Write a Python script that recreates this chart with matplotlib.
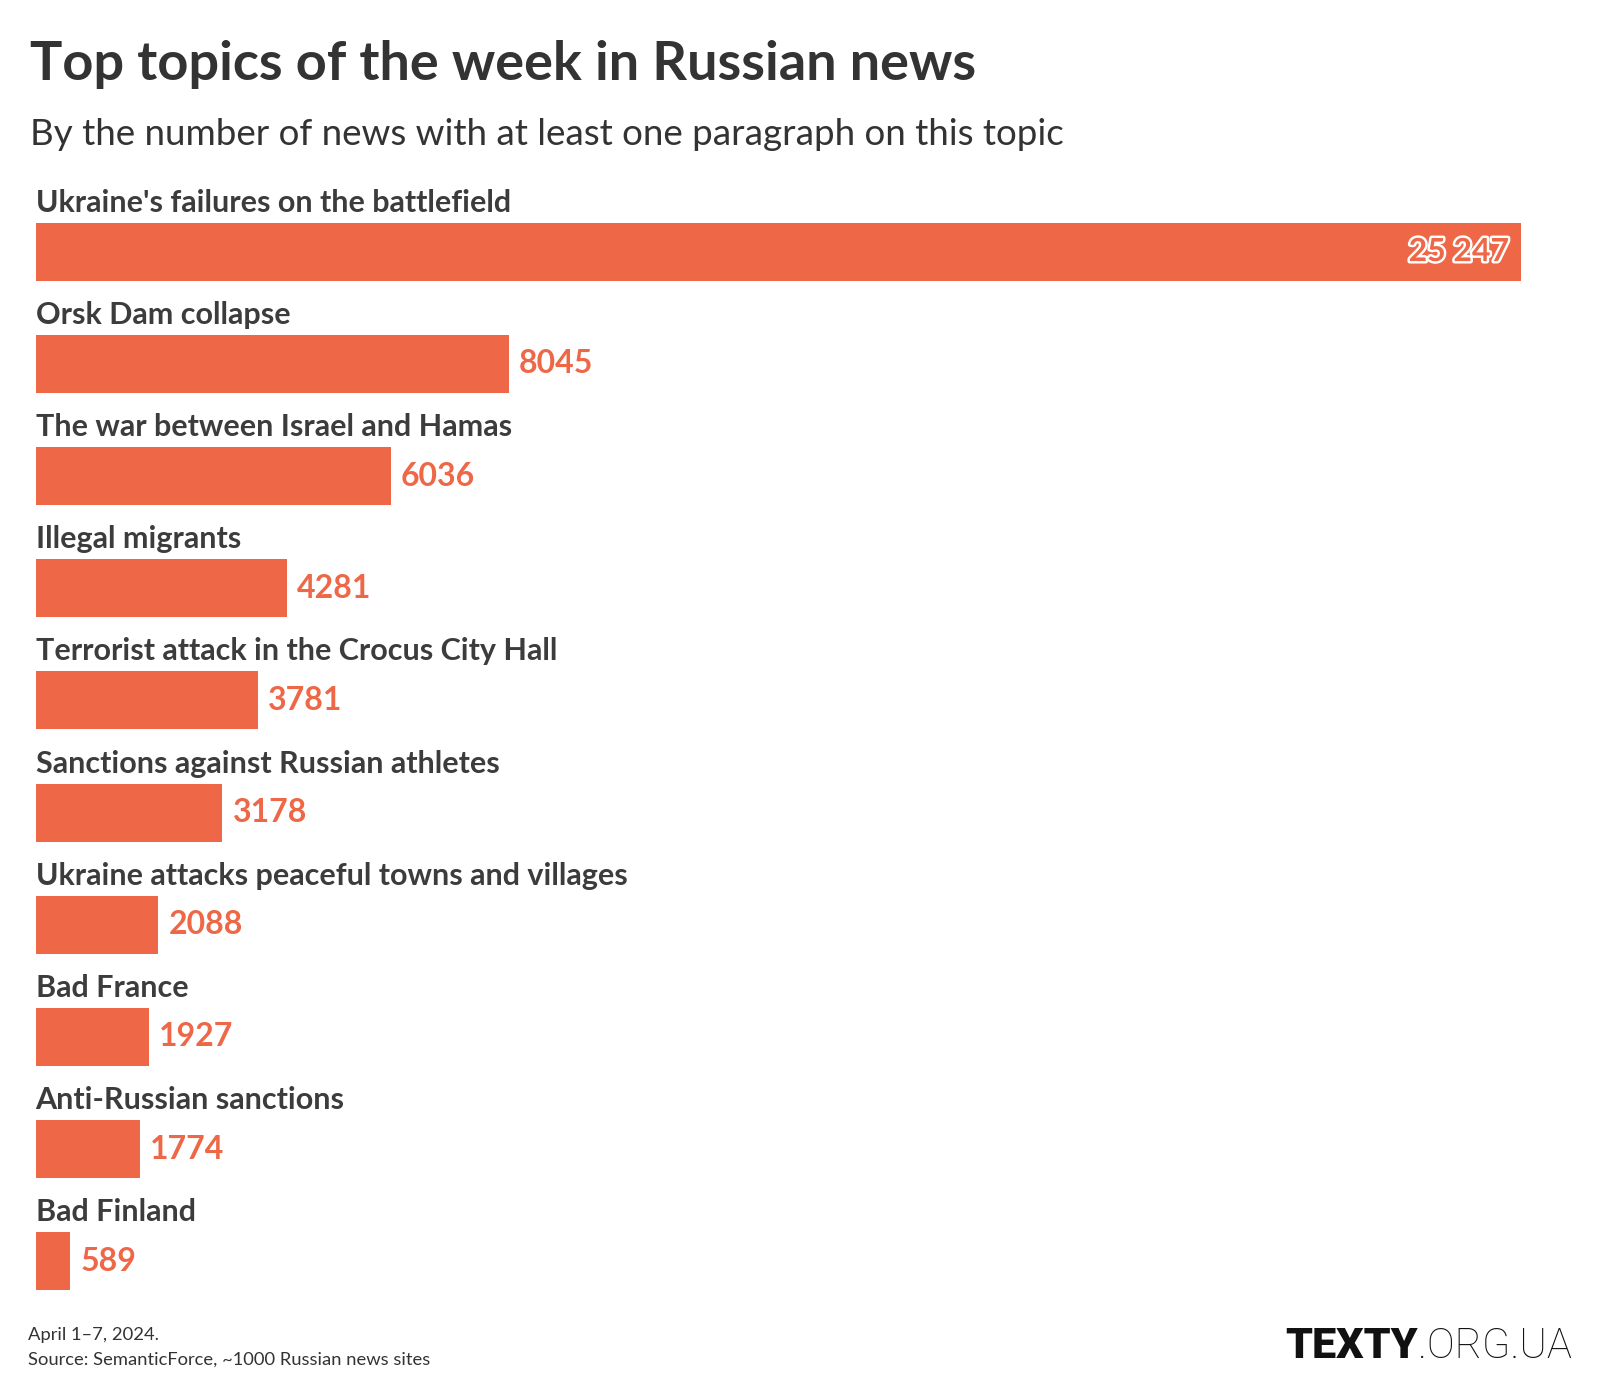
import matplotlib
matplotlib.use("Agg")
import matplotlib.pyplot as plt
import matplotlib.patheffects as pe

topics = [
    "Ukraine's failures on the battlefield",
    "Orsk Dam collapse",
    "The war between Israel and Hamas",
    "Illegal migrants",
    "Terrorist attack in the Crocus City Hall",
    "Sanctions against Russian athletes",
    "Ukraine attacks peaceful towns and villages",
    "Bad France",
    "Anti-Russian sanctions",
    "Bad Finland",
]
counts = [25247, 8045, 6036, 4281, 3781, 3178, 2088, 1927, 1774, 589]
value_labels = ["25 247", "8045", "6036", "4281", "3781", "3178", "2088", "1927", "1774", "589"]

title = "Top topics of the week in Russian news"
subtitle = "By the number of news with at least one paragraph on this topic"
footer1 = "April 1–7, 2024."
footer2 = "Source: SemanticForce, ~1000 Russian news sites"

W, H = 1600, 1400
BAR = "#EE6747"
LABEL = "#3c3c3c"
FONT = "Lato"

fig = plt.figure(figsize=(16, 14), dpi=100)
fig.patch.set_facecolor("white")

def px(x, y):
    return x / W, 1 - y / H

# axes geometry in pixels
x0, x1 = 35.5, 1520.5
c0, step = 251.6, 112.2
ytop, ybot = -0.9, 9.5
top_px = c0 + ytop * step
bot_px = c0 + ybot * step
ax = fig.add_axes([x0 / W, 1 - bot_px / H, (x1 - x0) / W, (bot_px - top_px) / H])
ax.set_xlim(0, max(counts))
ax.set_ylim(ybot, ytop)
ax.axis("off")

ypos = list(range(len(topics)))
ax.barh(ypos, counts, height=58 / step, color=BAR, align="center")

for i, (t, v, lab) in enumerate(zip(topics, counts, value_labels)):
    ax.text(0, i - 40 / step, t, family=FONT, weight="bold", fontsize=22,
            color=LABEL, ha="left", va="baseline")
    if i == 0:
        ax.annotate(lab, xy=(v, i), xytext=(-11, 0), textcoords="offset pixels",
                    family=FONT, weight="bold", fontsize=23, color=BAR,
                    ha="right", va="center",
                    path_effects=[pe.withStroke(linewidth=3.5, foreground="white")])
    else:
        ax.annotate(lab, xy=(v, i), xytext=(10, 0), textcoords="offset pixels",
                    family=FONT, weight="bold", fontsize=23, color=BAR,
                    ha="left", va="center")

fig.text(*px(30, 80), title, family=FONT, weight="bold", fontsize=39,
         color="#333333", ha="left", va="baseline")
fig.text(*px(30, 145), subtitle, family=FONT, weight="normal", fontsize=26.5,
         color="#333333", ha="left", va="baseline")
fig.text(*px(28, 1340), footer1, family=FONT, fontsize=13.2,
         color="#333333", ha="left", va="baseline")
fig.text(*px(28, 1365), footer2, family=FONT, fontsize=13.2,
         color="#333333", ha="left", va="baseline")

# logo
t2 = fig.text(*px(1572, 1358), ".ORG.UA", family="Roboto", weight="light",
              fontsize=30, color="#111111", ha="right", va="baseline")
fig.canvas.draw()
bb = t2.get_window_extent()
fig.text(bb.x0 / W, 1 - 1358 / H, "TEXTY", family="Roboto", weight="heavy",
         fontsize=31, color="#111111", ha="right", va="baseline")

fig.savefig("out.png", dpi=100, facecolor="white")
